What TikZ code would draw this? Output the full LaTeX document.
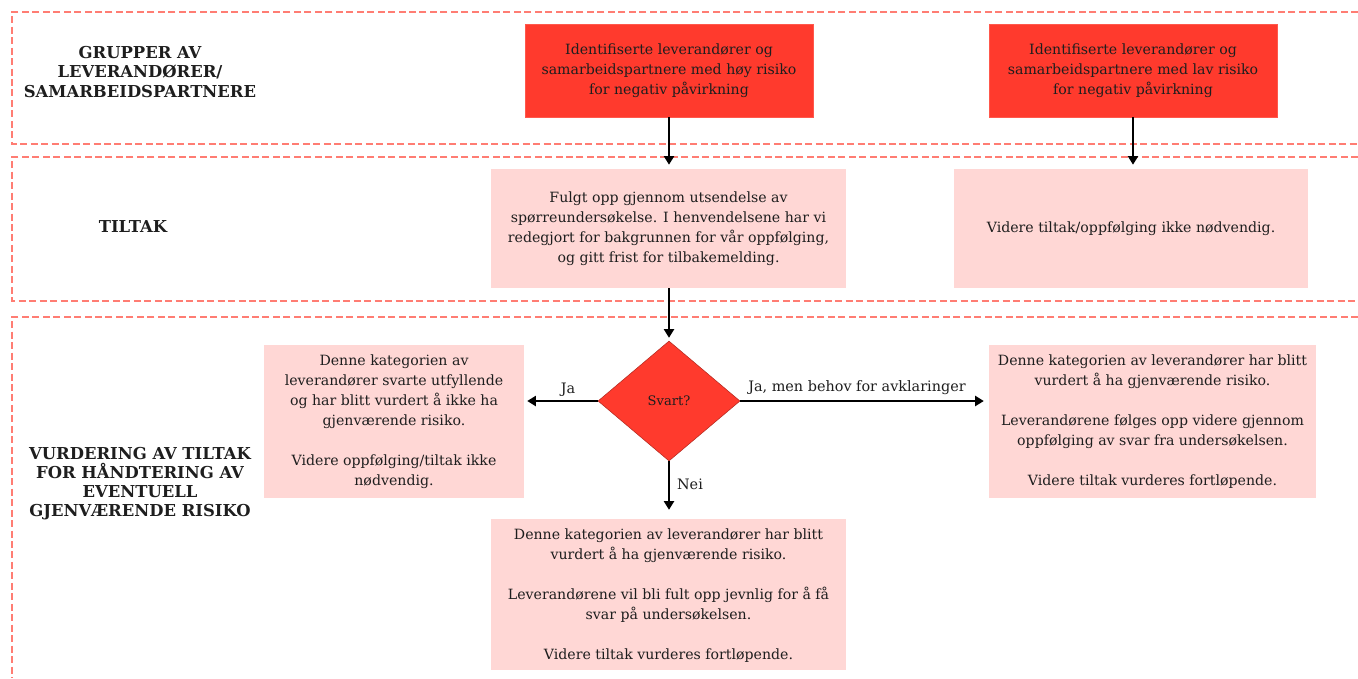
\documentclass[tikz,border=0pt]{standalone}
\usepackage{fontspec}
\setmainfont{DejaVu Serif}
\usetikzlibrary{shapes.geometric,arrows.meta}
\definecolor{frameC}{RGB}{255,125,115}
\definecolor{redC}{RGB}{255,58,45}
\definecolor{pinkC}{RGB}{255,215,213}
\definecolor{txtC}{RGB}{30,30,30}
\tikzset{
  frame/.style={draw=frameC,line width=1.1pt,dash pattern=on 5.25pt off 2.6pt},
  redbox/.style={fill=redC,draw=redC!85!white,line width=0.4pt,inner sep=0pt,align=center,text=txtC,font=\fontsize{10.6}{15}\selectfont},
  pinkbox/.style={fill=pinkC,draw=none,inner sep=0pt,align=center,text=txtC,font=\fontsize{10.6}{15}\selectfont},
  head/.style={align=center,text=txtC,font=\fontsize{12.3}{14.3}\selectfont\bfseries},
  arr/.style={draw=black,line width=2.1pt,-{Triangle[length=6.5pt,width=7.5pt]}},
  elab/.style={text=txtC,font=\fontsize{10.8}{12}\selectfont,inner sep=1pt}
}
\begin{document}
\begin{tikzpicture}[x=0.75pt,y=-0.75pt]
\useasboundingbox (0,0) rectangle (1358,678);
% frames
\draw[frame] (1358,12) -- (12,12) -- (12,144) -- (1358,144);
\draw[frame] (1358,157) -- (12,157) -- (12,301) -- (1358,301);
\draw[frame] (1358,317) -- (12,317) -- (12,678);
% headings
\node[head] (h1) at (140,72) {GRUPPER AV\\LEVERANDØRER/\\SAMARBEIDSPARTNERE};
\node[head] (h2) at (133,227) {TILTAK};
\node[head] (h3) at (140,484) {VURDERING AV TILTAK\\FOR HÅNDTERING AV\\EVENTUELL\\GJENVÆRENDE RISIKO};
% top boxes
\node[redbox,minimum width=216pt,minimum height=69.75pt] (r1) at (669,70.5) {Identifiserte leverandører og\\samarbeidspartnere med høy risiko\\for negativ påvirkning};
\node[redbox,minimum width=216pt,minimum height=69.75pt] (r2) at (1133,70.5) {Identifiserte leverandører og\\samarbeidspartnere med lav risiko\\for negativ påvirkning};
% tiltak
\node[pinkbox,minimum width=266.25pt,minimum height=89.25pt] (t1) at (668.5,228.5) {Fulgt opp gjennom utsendelse av\\spørreundersøkelse. I henvendelsene har vi\\redegjort for bakgrunnen for vår oppfølging,\\og gitt frist for tilbakemelding.};
\node[pinkbox,minimum width=265.5pt,minimum height=89.25pt] (t2) at (1131,228.5) {Videre tiltak/oppfølging ikke nødvendig.};
% diamond
\node[diamond,fill=redC,draw=redC!70!black,line width=0.4pt,inner sep=0pt,minimum width=106.5pt,minimum height=90pt,aspect=1.18,text=txtC,font=\fontsize{9.8}{11}\selectfont] (d) at (669,401) {Svart?};
% bottom boxes
\node[pinkbox,minimum width=195pt,minimum height=114.75pt] (lb) at (394,421.5) {Denne kategorien av\\leverandører svarte utfyllende\\og har blitt vurdert å ikke ha\\gjenværende risiko.\\[15pt]Videre oppfølging/tiltak ikke\\nødvendig.};
\node[pinkbox,minimum width=245.25pt,minimum height=114.75pt] (rb) at (1152.5,421.5) {Denne kategorien av leverandører har blitt\\vurdert å ha gjenværende risiko.\\[15pt]Leverandørene følges opp videre gjennom\\oppfølging av svar fra undersøkelsen.\\[15pt]Videre tiltak vurderes fortløpende.};
\node[pinkbox,minimum width=266.25pt,minimum height=113.25pt] (bb) at (668.5,594.5) {\\[-6pt]Denne kategorien av leverandører har blitt\\vurdert å ha gjenværende risiko.\\[15pt]Leverandørene vil bli fult opp jevnlig for å få\\svar på undersøkelsen.\\[15pt]Videre tiltak vurderes fortløpende.};
% arrows
\draw[arr,shorten >=3pt] (r1.south) -- (r1.south |- t1.north);
\draw[arr,shorten >=3pt] (r2.south) -- (r2.south |- t2.north);
\draw[arr,shorten >=2.2pt] (t1.south -| d.north) -- (d.north);
\draw[arr,shorten >=2.2pt] (d.west) -- (d.west -| lb.east);
\draw[arr,shorten >=3.7pt] (d.east) -- (d.east -| rb.west);
\draw[arr,shorten >=6.7pt] (d.south) -- (d.south |- bb.north);
% edge labels
\node[elab] (l1) at (568,390) {Ja};
\node[elab] (l2) at (857,388) {Ja, men behov for avklaringer};
\node[elab] (l3) at (690,484) {Nei};
\end{tikzpicture}
\end{document}
